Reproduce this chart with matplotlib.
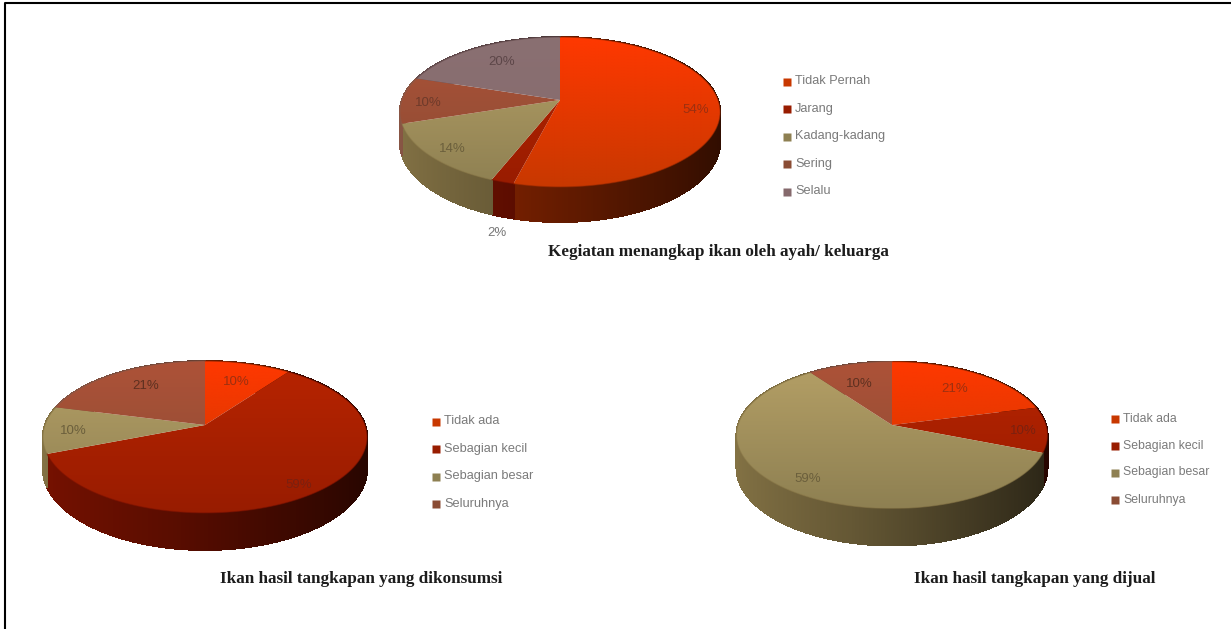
import numpy as np
import matplotlib
matplotlib.use("Agg")
import matplotlib.pyplot as plt
from matplotlib.collections import PolyCollection
from matplotlib.colors import LinearSegmentedColormap, to_rgb
from matplotlib.patches import Polygon

# data
kegiatan_labels = ["Tidak Pernah", "Jarang", "Kadang-kadang", "Sering", "Selalu"]
kegiatan_values = [54, 2, 14, 10, 20]
konsumsi_labels = ["Tidak ada", "Sebagian kecil", "Sebagian besar", "Seluruhnya"]
konsumsi_values = [10, 59, 10, 21]
dijual_labels = ["Tidak ada", "Sebagian kecil", "Sebagian besar", "Seluruhnya"]
dijual_values = [21, 10, 59, 10]

# top colour, lower colour, side colour for each slice
red = ("#ff3800", "#c83800", "#9c2a00")
dark = ("#b82400", "#981c00", "#7e1200")
olive = ("#b5a066", "#8e8052", "#8a7848")
brown = ("#ad5238", "#8a4c34", "#8f5a48")
grey = ("#8a7072", "#85696c", "#6a5052")
kegiatan_colors = [red, dark, olive, brown, grey]
konsumsi_colors = [red, dark, olive, brown]
dijual_colors = [red, dark, olive, brown]


def project(theta, pie, r=1.0):
    # circle seen in perspective, so the centre sits above the middle of the ellipse
    x = r * np.sin(theta)
    y = r * np.cos(theta)
    w = 1 + pie["p"] * y
    return pie["cx"] + pie["rx"] * x / w, pie["cy"] - pie["ry"] * y / w, w


def draw_pie(ax, values, colors, labels, pie):
    angles = np.cumsum([0] + values) / sum(values) * 2 * np.pi
    top = pie["cy"] - pie["ry"] / (1 + pie["p"])
    bottom = pie["cy"] + pie["ry"] / (1 - pie["p"])

    # walls first, the tops cover the back part
    for i in range(len(values)):
        t = np.linspace(angles[i], angles[i + 1], max(3, int((angles[i + 1] - angles[i]) * 90)))
        sx, sy, w = project(t, pie)
        quads, cols = [], []
        base = np.array(to_rgb(colors[i][2]))
        for j in range(len(t) - 1):
            d0 = pie["depth"] * (1 - pie["p"]) / w[j]
            d1 = pie["depth"] * (1 - pie["p"]) / w[j + 1]
            quads.append([(sx[j], sy[j]), (sx[j + 1], sy[j + 1]),
                          (sx[j + 1], sy[j + 1] + d1), (sx[j], sy[j] + d0)])
            shade = np.interp(np.sin(t[j]), [-1, -0.2, 0.4, 1], [0.95, 0.72, 0.5, 0.3])
            cols.append(base * shade)
        ax.add_collection(PolyCollection(quads, facecolors=cols, edgecolors=cols, linewidths=0.8,
                                         antialiased=False, zorder=2))

    for i in range(len(values)):
        t = np.linspace(angles[i], angles[i + 1], 120)
        sx, sy, _ = project(t, pie)
        pts = np.column_stack([np.r_[pie["cx"], sx], np.r_[pie["cy"], sy]])
        patch = Polygon(pts, closed=True, facecolor="none", edgecolor="none", zorder=3)
        ax.add_patch(patch)
        cmap = LinearSegmentedColormap.from_list("s", [colors[i][0], colors[i][1]])
        grad = np.linspace(0, 1, 200).reshape(-1, 1)
        im = ax.imshow(grad, cmap=cmap, aspect="auto", zorder=3, interpolation="bilinear",
                       extent=(pie["cx"] - pie["rx"] * 1.1, pie["cx"] + pie["rx"] * 1.1, bottom, top))
        im.set_clip_path(patch)
        ax.plot(sx, sy, color=colors[i][2], lw=0.8, alpha=0.55, zorder=4)

    # percent labels
    for i, v in enumerate(values):
        mid = (angles[i] + angles[i + 1]) / 2
        sx, sy, _ = project(mid, pie, pie["label_r"][i])
        ax.text(sx + pie["label_dx"][i], sy + pie["label_dy"][i], f"{v}%", ha="center", va="center",
                fontsize=9.5, color=pie["label_color"][i], family="Liberation Sans", zorder=5)

    # legend
    for i, name in enumerate(labels):
        y = pie["leg_y"] + i * pie["leg_step"]
        ax.plot(pie["leg_x"], y, "s", ms=5.2, color=colors[i][1], mec="none", zorder=5)
        ax.text(pie["leg_x"] + 8, y, name, ha="left", va="center", fontsize=pie["leg_size"], color="#7a7a7a",
                family="Liberation Sans")

    ax.text(pie["title_x"], pie["title_y"], pie["title"], ha="center", va="center", fontsize=12.3,
            fontweight="bold", family="Liberation Serif", color="#1c1c1c")


fig = plt.figure(figsize=(12.31, 6.29), dpi=100)
ax = fig.add_axes([0, 0, 1, 1])
ax.set_xlim(0, 1231)
ax.set_ylim(629, 0)
ax.set_autoscale_on(False)
ax.axis("off")

draw_pie(ax, kegiatan_values, kegiatan_colors, kegiatan_labels, {
    "cx": 560, "cy": 100, "rx": 158, "ry": 73, "p": 0.16, "depth": 35,
    "label_r": [0.85, 1.0, 0.85, 0.85, 0.75], "label_dx": [0, -5, 0, 3, 5], "label_dy": [2, 51, 2, 3, 2],
    "label_color": ["#9c3010", "#777777", "#6b5f3c", "#6e3a2a", "#5c4648"],
    "leg_x": 787, "leg_y": 81.5, "leg_step": 27.5, "leg_size": 9.2,
    "title": "Kegiatan menangkap ikan oleh ayah/ keluarga", "title_x": 718, "title_y": 252})
draw_pie(ax, konsumsi_values, konsumsi_colors, konsumsi_labels, {
    "cx": 205, "cy": 425, "rx": 160, "ry": 74, "p": 0.158, "depth": 37,
    "label_r": [0.7, 0.85, 0.85, 0.75], "label_dx": [0, 0, 5, 8], "label_dy": [2, 4, 2, 1],
    "label_color": ["#9c3010", "#7a2010", "#6b5f3c", "#5e3020"],
    "leg_x": 436, "leg_y": 421.5, "leg_step": 27.5, "leg_size": 9.2,
    "title": "Ikan hasil tangkapan yang dikonsumsi", "title_x": 361, "title_y": 579})
draw_pie(ax, dijual_values, dijual_colors, dijual_labels, {
    "cx": 892, "cy": 425, "rx": 154, "ry": 72, "p": 0.137, "depth": 37,
    "label_r": [0.72, 0.85, 0.75, 0.75], "label_dx": [0, 0, -7, 0], "label_dy": [2, 2, 8, 6],
    "label_color": ["#9c3010", "#7a2010", "#6b5f3c", "#5e3020"],
    "leg_x": 1115, "leg_y": 418.5, "leg_step": 27, "leg_size": 8.8,
    "title": "Ikan hasil tangkapan yang dijual", "title_x": 1035, "title_y": 579})

# frame of the source picture, only top and left
ax.plot([4.5, 4.5, 1231], [629, 2.5, 2.5], color="black", lw=1.5, zorder=6)

fig.savefig("out.png", dpi=100)
